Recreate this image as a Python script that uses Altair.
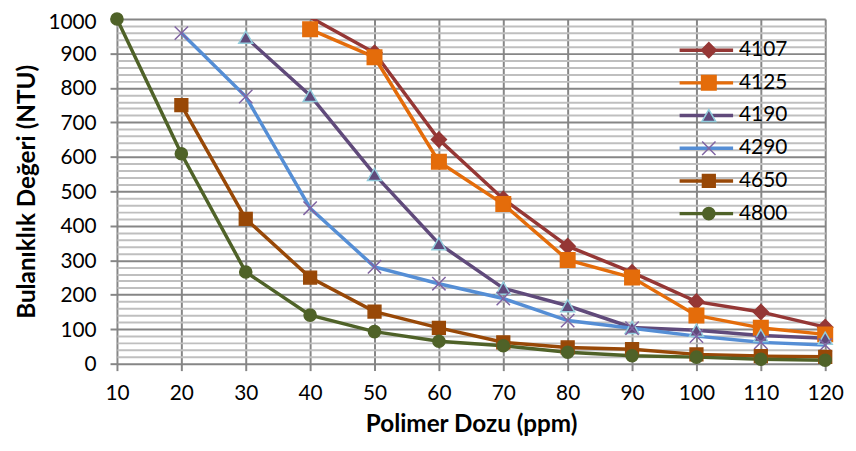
import altair as alt
import pandas as pd

# ---- data ----
doses = [10, 20, 30, 40, 50, 60, 70, 80, 90, 100, 110, 120]
series_names = ["4107", "4125", "4190", "4290", "4650", "4800"]
v4107 = [None, None, None, 1005, 902, 650, 478, 341, 265, 180, 150, 106]
v4125 = [None, None, None, 970, 889, 586, 463, 301, 250, 140, 104, 85]
v4190 = [None, None, 947, 778, 549, 348, 219, 168, 105, 97, 82, 74]
v4290 = [None, 959, 775, 451, 281, 232, 189, 125, 103, 80, 62, 54]
v4650 = [None, 750, 420, 250, 151, 104, 62, 47, 42, 27, 22, 20]
v4800 = [1000, 609, 266, 141, 93, 65, 52, 33, 23, 19, 13, 10]
y_major = list(range(0, 1001, 100))
y_minor = [v for v in range(0, 1001, 20) if v % 100 != 0]

# ---- styles ----
line_colors = ["#953735", "#E46C0A", "#604A7B", "#558ED5", "#984807", "#4F6228"]
marker_shapes = ["diamond", "square", "triangle-up", "M-1,-1L1,1M-1,1L1,-1", "square", "circle"]
marker_fills = ["#953735", "#E46C0A", "#604A7B", "#8064A2", "#984807", "#4F6228"]
marker_strokes = ["#953735", "#E46C0A", "#93CDDD", "#8064A2", "#984807", "#4F6228"]
marker_sizes = [230, 150, 170, 150, 150, 150]

rows = []
for name, vals in zip(series_names, [v4107, v4125, v4190, v4290, v4650, v4800]):
    for d, v in zip(doses, vals):
        if v is not None:
            rows.append({"doz": d, "ntu": v, "series": name, "Seri": name})
df = pd.DataFrame(rows)

FONT = "Lato"
GRID = "#868686"

x_enc = alt.X(
    "doz:Q",
    scale=alt.Scale(domain=[10, 120], nice=False, zero=False),
    axis=alt.Axis(
        values=doses, title="Polimer Dozu (ppm)", grid=True, gridColor=GRID, gridWidth=2,
        domain=False, ticks=True, tickColor=GRID, tickWidth=2, tickSize=7,
        labelFont=FONT, labelFontSize=21, labelColor="black", labelPadding=12,
        titleFont=FONT, titleFontSize=24.5, titleFontWeight="bold", titleColor="black",
        titlePadding=9, labelFlush=False, format="d",
    ),
)

y_major_axis = alt.Axis(
    values=y_major, title="Bulanıklık Değeri (NTU)", grid=True, gridColor=GRID, gridWidth=2,
    domain=False, ticks=True, tickColor=GRID, tickWidth=2, tickSize=7,
    labelFont=FONT, labelFontSize=21, labelColor="black", labelPadding=14,
    labelOffset={"condition": {"test": "datum.value >= 1000", "value": 4}, "value": 1},
    titleFont=FONT, titleFontSize=24.5, titleFontWeight="bold", titleColor="black",
    titlePadding=9, labelFlush=False, format="d",
)
y_minor_axis = alt.Axis(
    values=y_minor, title=None, grid=True, gridColor="#BFBFBF", gridWidth=2,
    domain=False, ticks=False, labels=False, orient="right",
)
y_scale = alt.Scale(domain=[0, 1000], nice=False)

line_legend = alt.Legend(
    title=None, orient="none", legendX=566, legendY=16, symbolType="stroke",
    symbolSize=2916, symbolStrokeWidth=3.5, labelFont=FONT, labelFontSize=21,
    labelColor="black", clipHeight=31, rowPadding=2, padding=0, labelOffset=4,
)
marker_legend = alt.Legend(
    title=None, orient="none", legendX=587, legendY=16, symbolStrokeWidth=1.5,
    symbolOpacity=1, labelExpr="''", labelFontSize=21, clipHeight=31, rowPadding=2,
    padding=0,
)

lines = alt.Chart(df).mark_line(strokeWidth=3.5, clip=True).encode(
    x=x_enc,
    y=alt.Y("ntu:Q", scale=y_scale, axis=y_major_axis),
    color=alt.Color("series:N", scale=alt.Scale(domain=series_names, range=line_colors),
                    legend=line_legend),
    detail="series:N",
)

points = alt.Chart(df).transform_filter("datum.ntu <= 1000").mark_point(
    filled=True, opacity=1, strokeWidth=1.5
).encode(
    x=alt.X("doz:Q"),
    y=alt.Y("ntu:Q", scale=y_scale, axis=y_minor_axis),
    fill=alt.Fill("Seri:N", scale=alt.Scale(range=marker_fills), legend=marker_legend),
    stroke=alt.Stroke("Seri:N", scale=alt.Scale(range=marker_strokes), legend=marker_legend),
    shape=alt.Shape("Seri:N", scale=alt.Scale(range=marker_shapes), legend=marker_legend),
    size=alt.Size("Seri:N", scale=alt.Scale(range=marker_sizes), legend=marker_legend),
)

chart = (
    alt.layer(lines, points)
    .resolve_axis(y="independent")
    .properties(
        width=715, height=348,
        autosize=alt.AutoSizeParams(type="none"),
        padding={"left": 110, "top": 9, "right": 23, "bottom": 78},
        background="white",
    )
    .configure_view(stroke=None)
)

chart.save("out.html", embed_options={"renderer": "svg", "actions": False})
